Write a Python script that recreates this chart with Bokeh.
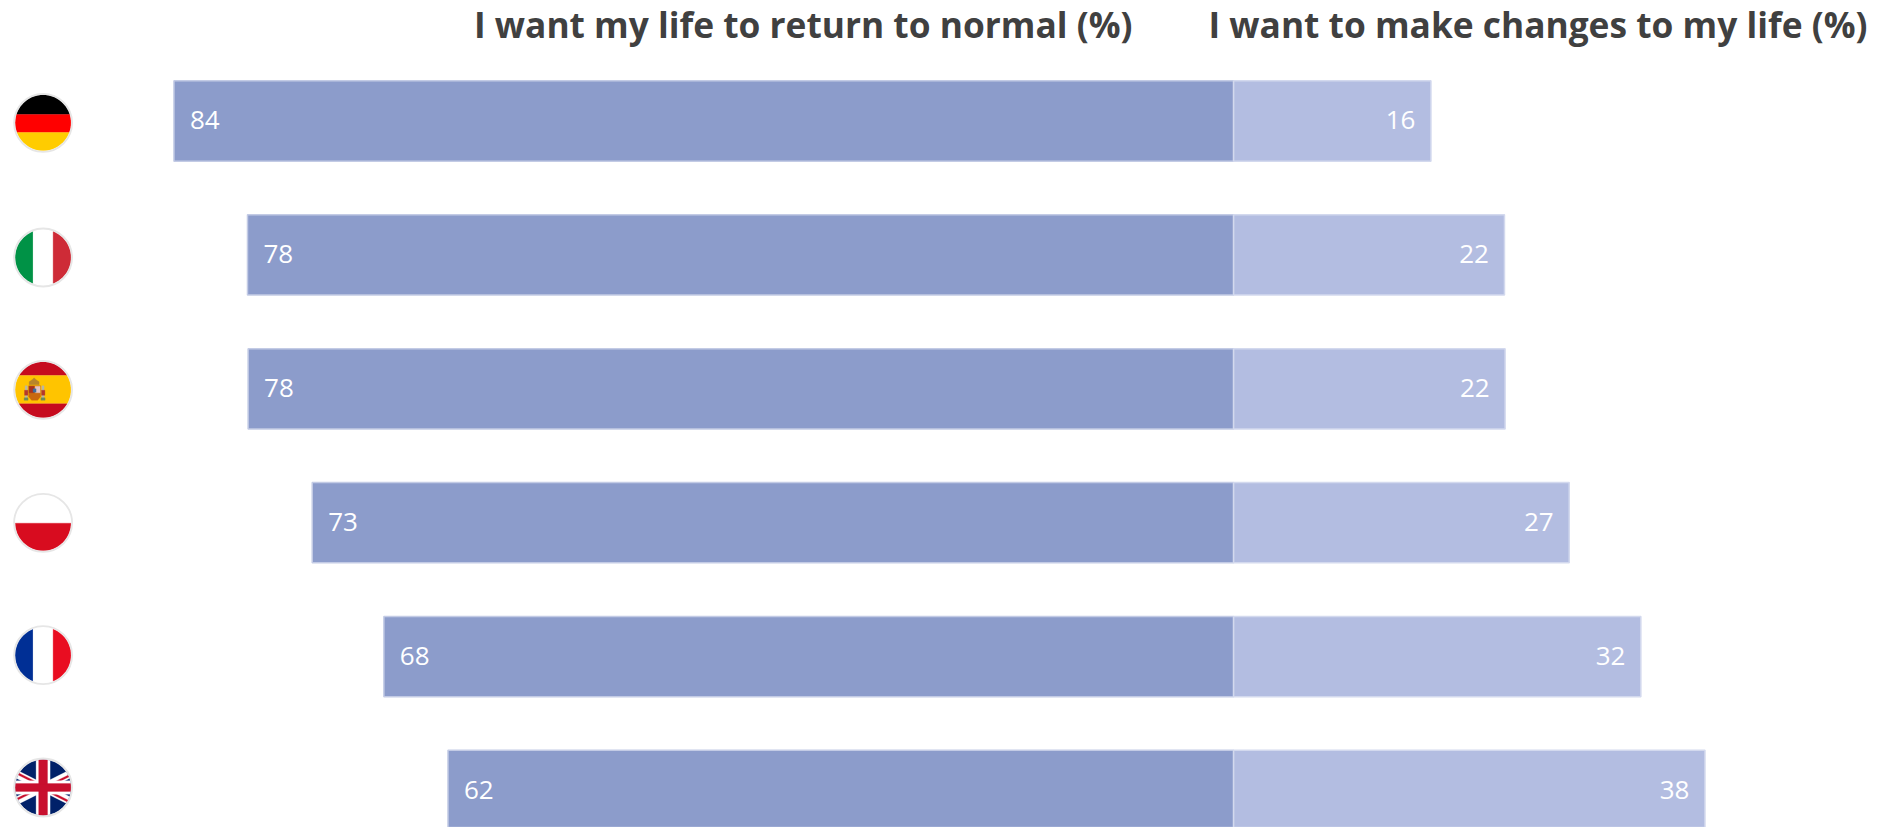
import numpy as np
from bokeh.plotting import figure
from bokeh.models import Range1d, ColumnDataSource
from bokeh.core.properties import value
from bokeh.embed import file_html
from bokeh.resources import INLINE

countries = ["Germany", "Italy", "Spain", "Poland", "France", "UK"]
return_normal = [84.3, 78.45, 78.4, 73.3, 67.6, 62.5]
make_changes = [15.7, 21.55, 21.6, 26.7, 32.4, 37.5]
normal_labels = ["84", "78", "78", "73", "68", "62"]
changes_labels = ["16", "22", "22", "27", "32", "38"]
titles = ["I want my life to return to normal (%)", "I want to make changes to my life (%)"]

FONT = "Open Sans"
W, H = 1885, 827
PX_PER_UNIT, X0 = 12.57, 1233.1
PITCH, Y0 = 133.9, 120.5
flag_y = [122.3, 257.0, 389.3, 522.3, 654.7, 787.0]
FLAG_X, R_IN, R_OUT = 42.6, 27.8, 29.0

p = figure(width=W, height=H, output_backend="svg", toolbar_location=None,
           x_range=Range1d(-X0 / PX_PER_UNIT, (W - X0) / PX_PER_UNIT),
           y_range=Range1d((H - Y0) / PITCH, -Y0 / PITCH),
           min_border=0, outline_line_color=None, background_fill_color="white")
p.axis.visible = False
p.grid.visible = False
p.extra_x_ranges["px"] = Range1d(0, W)
p.extra_y_ranges["px"] = Range1d(H, 0)

rows = list(range(len(countries)))
src = ColumnDataSource(dict(y=rows, left=[-v for v in return_normal], right=make_changes,
                            nl=normal_labels, cl=changes_labels))
p.hbar(y="y", left="left", right=0, height=0.6, source=src,
       fill_color="#8C9CCB", line_color="#C3CBE5", line_width=1.5)
p.hbar(y="y", left=0, right="right", height=0.6, source=src,
       fill_color="#B3BDE1", line_color="#D3D9EE", line_width=1.5)
p.text(x="left", y="y", text="nl", source=src, x_offset=16, y_offset=-1, text_color="white",
       text_font=value(FONT), text_font_size="26px", text_align="left", text_baseline="middle")
p.text(x="right", y="y", text="cl", source=src, x_offset=-15.5, y_offset=-1, text_color="white",
       text_font=value(FONT), text_font_size="26px", text_align="right", text_baseline="middle")

p.text(x=[473.5, 1208], y=[23, 23], text=titles, x_range_name="px", y_range_name="px",
       text_color="#404040", text_font=value(FONT), text_font_style="bold",
       text_font_size="35.3px", text_align="left", text_baseline="middle")

# ---- flags: polygons clipped to a circle ----
_t = np.linspace(0, 2 * np.pi, 72, endpoint=False)
_circle = np.column_stack([R_IN * np.cos(_t), R_IN * np.sin(_t)])

def clip(poly):
    out = list(poly)
    n = len(_circle)
    for i in range(n):
        a, b = _circle[i], _circle[(i + 1) % n]
        ex, ey = b - a
        inside = lambda q: ex * (q[1] - a[1]) - ey * (q[0] - a[0]) >= 0
        res = []
        for j in range(len(out)):
            c, d = np.array(out[j]), np.array(out[(j + 1) % len(out)])
            ic, id_ = inside(c), inside(d)
            if ic:
                res.append(c)
            if ic != id_:
                dc = ex * (c[1] - a[1]) - ey * (c[0] - a[0])
                dd = ex * (d[1] - a[1]) - ey * (d[0] - a[0])
                res.append(c + (d - c) * dc / (dc - dd))
        out = res
        if not out:
            break
    return out

xs, ys, cols = [], [], []
def shape(cx, cy, poly, col, clipped=True):
    pts = clip(poly) if clipped else poly
    if len(pts) < 3:
        return
    xs.append([cx + q[0] for q in pts])
    ys.append([cy + q[1] for q in pts])
    cols.append(col)

def rect(cx, cy, x0, y0, x1, y1, col, clipped=True):
    shape(cx, cy, [(x0, y0), (x1, y0), (x1, y1), (x0, y1)], col, clipped)

def hbands(cy, edges, colors):
    for i, c in enumerate(colors):
        rect(FLAG_X, cy, -30, edges[i], 30, edges[i + 1], c)

def vbands(cy, edges, colors):
    for i, c in enumerate(colors):
        rect(FLAG_X, cy, edges[i], -30, edges[i + 1], 30, c)

hbands(flag_y[0], [-30, -8.3, 9.7, 30], ["#000000", "#FF0000", "#FFCC00"])
vbands(flag_y[1], [-30, -10, 10, 30], ["#009246", "#FFFFFF", "#CE2B37"])
hbands(flag_y[2], [-30, -14.2, 14.0, 30], ["#C60B1E", "#FFC400", "#C60B1E"])
hbands(flag_y[3], [-30, 0.4, 30], ["#FFFFFF", "#D80C1F"])
vbands(flag_y[4], [-30, -10, 10, 30], ["#002F95", "#FFFFFF", "#E90D21"])

# Spanish coat of arms (sits left of the flag's centre)
cy = flag_y[2]
rect(FLAG_X, cy, -18, -4, -15.8, 8.5, "#B9B7A8", False)
rect(FLAG_X, cy, -1.3, -4, 1, 8.5, "#B9B7A8", False)
rect(FLAG_X, cy, -19, 8, -15, 10.5, "#6E8B5A", False)
rect(FLAG_X, cy, -2.2, 8, 2, 10.5, "#6E8B5A", False)
rect(FLAG_X, cy, -18.6, 0.5, -15.2, 5.5, "#B5382A", False)
rect(FLAG_X, cy, -1.6, 0.5, 1.8, 5.5, "#B5382A", False)
shape(FLAG_X, cy, [(-14, -5), (-14, -8), (-11, -10), (-9, -12), (-7, -10), (-4, -8), (-4, -5)], "#B8862A", False)
shape(FLAG_X, cy, [(-14.5, -4), (-2.5, -4), (-2.5, 7), (-5.5, 10.5), (-11.5, 10.5), (-14.5, 7)], "#C9680E", False)
rect(FLAG_X, cy, -8, -3.5, -3, 3, "#E3C4C4", False)
rect(FLAG_X, cy, -14, -3.5, -9, 3, "#A8321E", False)
rect(FLAG_X, cy, -10, -1, -7, 2.5, "#3B6FA0", False)

# Union Jack
cy = flag_y[5]
rect(FLAG_X, cy, -30, -30, 30, 30, "#012169")
s = 0.5
def diag(half, col, sign):
    L = 32
    shape(FLAG_X, cy, [(-L, -L * s * sign - half), (L, L * s * sign - half),
                       (L, L * s * sign + half), (-L, -L * s * sign + half)], col)
diag(4.2, "#FFFFFF", 1)
diag(4.2, "#FFFFFF", -1)
for sx, sy, off in [(-1, -1, -1.2), (1, 1, 1.2), (1, -1, 1.2), (-1, 1, -1.2)]:
    m = sx * sy * s
    x0, x1 = (6, 32) if sx > 0 else (-32, -6)
    shape(FLAG_X, cy, [(x0, m * x0 + off - 1.1), (x1, m * x1 + off - 1.1),
                       (x1, m * x1 + off + 1.1), (x0, m * x0 + off + 1.1)], "#C8102E")
rect(FLAG_X, cy, -7, -30, 7, 30, "#FFFFFF")
rect(FLAG_X, cy, -30, -6.8, 30, 6.8, "#FFFFFF")
rect(FLAG_X, cy, -4.4, -30, 4.4, 30, "#C8102E")
rect(FLAG_X, cy, -30, -3.9, 30, 3.9, "#C8102E")

p.patches(xs, ys, fill_color=cols, line_color=cols, line_width=0.3,
          x_range_name="px", y_range_name="px")
p.scatter(x=[FLAG_X] * len(flag_y), y=flag_y, size=2 * R_OUT, marker="circle",
          fill_color=None, line_color="#E6E6E6", line_width=1.8,
          x_range_name="px", y_range_name="px")

open("out.html", "w").write(file_html(p, INLINE))
